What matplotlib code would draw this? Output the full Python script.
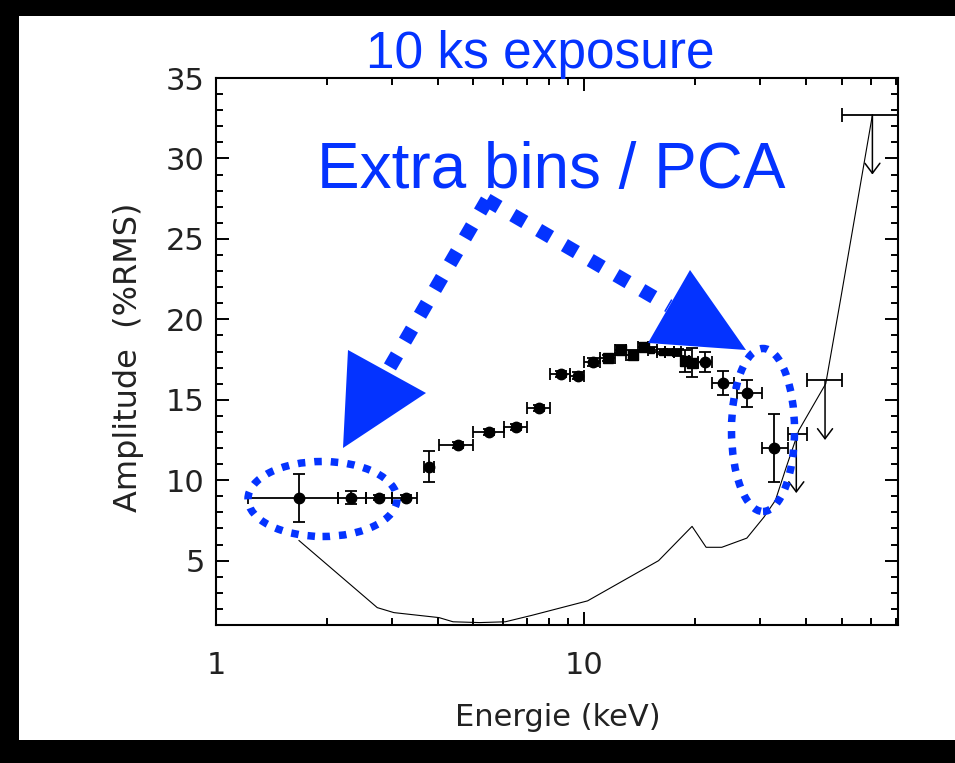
import numpy as np
import matplotlib
matplotlib.use("Agg")
from matplotlib import pyplot as plt
from matplotlib.patches import Ellipse, Polygon, Rectangle
from matplotlib.lines import Line2D
from matplotlib.ticker import FixedLocator, MultipleLocator, LogLocator, NullFormatter

# measured points (keV, %RMS)
energy = [1.68, 2.33, 2.77, 3.27, 3.79, 4.53, 5.52, 6.53, 7.55, 8.62, 9.61, 10.56, 11.6,
          12.56, 13.57, 14.5, 15.2, 16.2, 17.0, 17.9, 18.76, 19.57, 21.27, 23.77, 27.63, 32.8]
energy_lo = [1.22, 2.15, 2.55, 3.01, 3.66, 4.04, 5.0, 6.06, 7.0, 8.05, 9.12, 10.0, 11.0,
             12.1, 13.0, 14.0, 14.9, 15.7, 16.6, 17.5, 18.3, 19.2, 20.3, 22.2, 26.0, 30.4]
energy_hi = [2.15, 2.55, 3.01, 3.52, 3.90, 5.0, 6.06, 7.0, 8.05, 9.12, 10.0, 11.0, 12.1,
             13.0, 14.0, 14.9, 15.7, 16.6, 17.5, 18.3, 19.2, 20.3, 22.2, 25.4, 30.4, 35.7]
rms = [8.9, 8.9, 8.9, 8.9, 10.85, 12.2, 13.0, 13.3, 14.5, 16.6, 16.5, 17.35, 17.6,
       18.1, 17.8, 18.3, 18.1, 18.0, 18.0, 17.95, 17.4, 17.3, 17.35, 16.05, 15.4, 12.0]
rms_err = [1.5, 0.4, 0.15, 0.15, 0.95, 0.2, 0.2, 0.2, 0.2, 0.2, 0.2, 0.25, 0.2,
           0.3, 0.3, 0.2, 0.15, 0.15, 0.15, 0.2, 0.7, 0.9, 0.6, 0.75, 0.85, 2.1]

# upper limits
ul_energy = [37.6, 45.0, 60.5]
ul_lo = [35.7, 40.3, 50.0]
ul_hi = [40.3, 50.0, 71.0]
ul_rms = [12.9, 16.2, 32.7]
ul_arrow = 3.7

# sensitivity curve
sens_energy = [1.68, 2.74, 3.04, 4.03, 4.4, 5.2, 6.1, 7.2, 10.2, 15.9, 19.6, 21.4, 23.6,
               27.6, 30.7, 33.0, 35.3, 38.2, 45.2, 49.6, 60.5]
sens_rms = [6.25, 2.08, 1.77, 1.46, 1.2, 1.15, 1.2, 1.6, 2.5, 5.0, 7.13, 5.83, 5.83,
            6.4, 7.7, 8.75, 10.8, 13.1, 16.0, 21.25, 32.7]

W, H = 955, 763
blue = "#0433ff"
ink = "#222222"


def fpos(x, y):
    return (x / W, 1 - y / H)


fig = plt.figure(figsize=(W / 100, H / 100), dpi=100, facecolor="white")
# black slide border: top, left, bottom
for x0, y0, x1, y1 in [(0, 0, W, 16), (0, 0, 19, H), (0, 740, W, H)]:
    fig.add_artist(Rectangle(fpos(x0, y1), (x1 - x0) / W, (y1 - y0) / H,
                             transform=fig.transFigure, facecolor="black",
                             edgecolor="none", zorder=-5))

ax = fig.add_axes([216 / W, 1 - 625 / H, (898 - 216) / W, (625 - 78) / H])
ax.set_xscale("log")
ax.set_xlim(1, 71)
ax.set_ylim(1, 35)

ax.plot(sens_energy, sens_rms, color="black", lw=0.8)

e = np.array(energy)
lo = np.array(energy_lo)
hi = np.array(energy_hi)
r = np.array(rms)
re = np.array(rms_err)
xerr = np.vstack([e - lo, hi - e])

groups = [(list(range(0, 12)) + [22, 23, 24, 25], "o", 7.5),
          ([12, 13, 14, 15, 20, 21], "s", 6.5),
          ([16, 17, 18, 19], "s", 4.5)]
for idx, mk, ms in groups:
    ax.errorbar(e[idx], r[idx], xerr=xerr[:, idx], yerr=re[idx], fmt=mk, ms=ms,
                color="black", ecolor="black", elinewidth=1.3, capsize=4.5, capthick=1.3)

ule = np.array(ul_energy)
ax.errorbar(ule, ul_rms, xerr=[ule - np.array(ul_lo), np.array(ul_hi) - ule], fmt="none",
            ecolor="black", elinewidth=1.3, capsize=5, capthick=1.3)
for x, y in zip(ul_energy, ul_rms):
    ax.annotate("", xy=(x, y - ul_arrow), xytext=(x, y),
                arrowprops=dict(arrowstyle="->,head_length=0.6,head_width=0.45", color="black",
                                lw=1.1, mutation_scale=12, shrinkA=0, shrinkB=0))

ax.yaxis.set_major_locator(FixedLocator([5, 10, 15, 20, 25, 30, 35]))
ax.yaxis.set_minor_locator(MultipleLocator(1))
ax.set_xticks([1, 10])
ax.set_xticklabels(["1", "10"])
ax.xaxis.set_minor_locator(LogLocator(base=10, subs=np.arange(2, 10)))
ax.xaxis.set_minor_formatter(NullFormatter())
ax.tick_params(which="both", direction="in", top=True, right=True, width=1.4, color="black",
               labelcolor=ink, labelsize=22)
ax.tick_params(which="major", length=9.5)
ax.tick_params(which="minor", length=5)
ax.tick_params(axis="x", pad=19)
ax.tick_params(axis="y", pad=8)
for s in ax.spines.values():
    s.set_linewidth(1.5)

ax.set_xlabel("Energie (keV)", fontsize=22, color=ink, va="center")
ax.xaxis.set_label_coords((558 - 216) / 682, (625 - 718) / 547)
ax.set_ylabel("Amplitude  (%RMS)", fontsize=23, color=ink, va="center")
ax.yaxis.set_label_coords((129 - 216) / 682, (625 - 357) / 547)

# blue overlay
fig.text(*fpos(540, 68), "10 ks exposure", color=blue, fontsize=37, ha="center",
         va="baseline", family="Liberation Sans")
fig.text(*fpos(317, 188), "Extra bins / PCA", color=blue, fontsize=46, ha="left",
         va="baseline", family="Liberation Sans")

apex = (487, 200)
for end in [(387, 372), (669, 306)]:
    (x0, y0), (x1, y1) = fpos(*apex), fpos(*end)
    fig.add_artist(Line2D([x0, x1], [y0, y1], transform=fig.transFigure, color=blue, lw=10,
                          linestyle=(0, (1, 1.15)), dash_capstyle="butt"))

for tri in [[(348, 350), (426, 393), (343, 448)], [(648, 343), (690, 270), (746, 350)]]:
    fig.add_artist(Polygon([fpos(*p) for p in tri], closed=True, transform=fig.transFigure,
                           facecolor=blue, edgecolor="none"))

for (cx, cy), w, h in [((322.5, 499), 149, 75), ((763, 430), 63, 163)]:
    fig.add_artist(Ellipse(fpos(cx, cy), w / W, h / H, transform=fig.transFigure, fill=False,
                           edgecolor=blue, lw=5.4, linestyle=(0, (1, 1.2))))

fig.savefig("out.png", dpi=100, facecolor=fig.get_facecolor())
